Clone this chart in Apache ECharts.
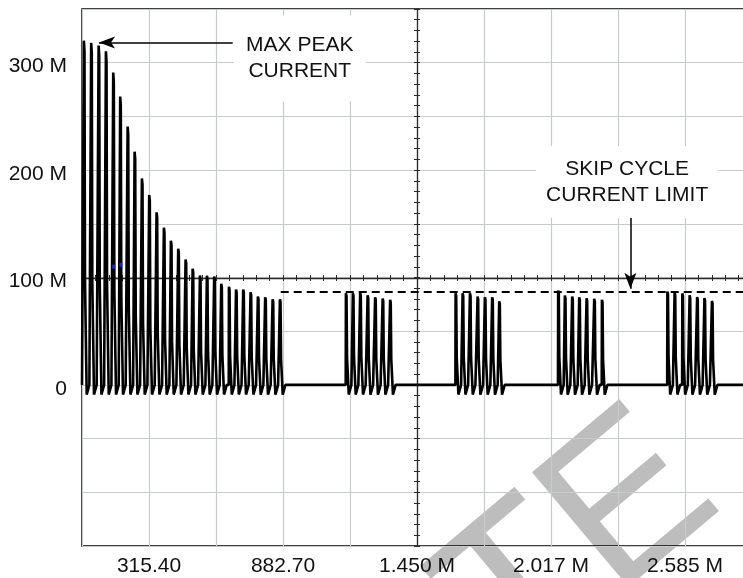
<!DOCTYPE html>
<html><head><meta charset="utf-8">
<script src="https://cdn.jsdelivr.net/npm/echarts@6/dist/echarts.min.js"></script>
<style>html,body{margin:0;padding:0;background:#fff}#c{width:743px;height:578px}</style>
</head><body><div id="c"></div>
<script>
// x axis in screen divisions (0..10), y in M units
const xTickLabels = ['', '315.40', '', '882.70', '', '1.450 M', '', '2.017 M', '', '2.585 M', ''];
const yLabelValues = [0, 100, 200, 300];
const yLabelTexts = ['0', '100 M', '200 M', '300 M'];

// pulse start positions (divisions) and peak values (M)
const burst1Times = [0.025,0.134,0.245,0.354,0.463,0.567,0.678,0.782,0.891,1.000,1.110,1.219,1.324,1.433,1.543,1.648,1.757,1.861,1.970,2.075,2.190,2.296,2.403,2.513,2.622,2.731,2.842,2.951];
const burst1Peaks = [320.5,318.4,315.9,310.6,290.9,268.5,240.5,217.1,192.2,176.8,160.7,146.4,134.3,126.8,116.8,108.1,101.9,101.6,100.9,94.1,91.4,88.8,88.8,86.3,82.2,81.6,79.7,79.7];
const burst2Times = [3.936,4.040,4.149,4.260,4.372,4.484,4.596];
const burst2Peaks = [85.3,85.3,85.6,83.5,81.6,80.5,79.2];
const burst3Times = [5.573,5.678,5.787,5.901,6.010,6.119,6.224];
const burst3Peaks = [85.3,85.3,85.3,82.2,81.6,81.6,77.9];
const burst4Times = [7.104,7.204,7.313,7.418,7.528,7.642,7.757];
const burst4Peaks = [87.9,83.2,82.2,81.6,80.7,80.1,79.2];
const burst5Times = [8.734,8.842,8.957,9.066,9.178,9.287,9.399];
const burst5Peaks = [87.0,86.3,85.2,83.5,81.9,80.8,78.2];
const skipLimit = 87;
const skipLimitStart = 2.966;
const blueDots = [[0.473,110.2],[0.582,111.8]];
const watermarkText = 'TE';

const bursts = [[burst1Times,burst1Peaks],[burst2Times,burst2Peaks],[burst3Times,burst3Peaks],[burst4Times,burst4Peaks],[burst5Times,burst5Peaks]];
const trace = [[0,0]];
bursts.forEach(([ts, ps]) => ts.forEach((t, i) => {
  const p = ps[i];
  trace.push([t,0],[t+0.003,p],[t+0.012,p*0.97],[t+0.02,p*0.3],[t+0.045,-9],[t+0.085,0]);
}));
trace.push([10,0]);

const FONT = "'Liberation Sans', Arial, Helvetica, sans-serif";
const GRIDC = '#c8ccc8';
const CROSS = '#2a2a2a';

const chart = echarts.init(document.getElementById('c'), null, {renderer:'canvas'});
const centerX = (offset, inside, line) => ({
  type:'value', min:0, max:10, interval:0.2, position:'bottom', offset,
  axisLine:{show:line, onZero:false, lineStyle:{color:CROSS, width:1.3}},
  axisTick:{show:true, inside, length:3, lineStyle:{color:CROSS, width:1}},
  axisLabel:{show:false}, splitLine:{show:false}
});
const centerY = (offset, inside, line) => ({
  type:'value', min:-150, max:350, interval:10, position:'left', offset,
  axisLine:{show:line, onZero:false, lineStyle:{color:CROSS, width:1.3}},
  axisTick:{show:true, inside, length:3, lineStyle:{color:CROSS, width:1}},
  axisLabel:{show:false}, splitLine:{show:false}
});

chart.setOption({
  animation:false,
  backgroundColor:'#fff',
  grid:{left:82, top:9, width:670, height:537, show:true, borderColor:'#000', borderWidth:1.5,
        outerBoundsMode:'none', containLabel:false},
  xAxis:[
    {type:'value', min:0, max:10, interval:1, position:'bottom',
     axisLine:{show:false, onZero:false}, axisTick:{show:false},
     splitLine:{show:true, lineStyle:{color:GRIDC, width:1.2}},
     axisLabel:{show:true, margin:10, color:'#111', fontFamily:FONT, fontSize:21,
       formatter:v => xTickLabels[Math.round(v)] || ''}},
    centerX(-268, false, true),
    centerX(-268, true, false)
  ],
  yAxis:[
    {type:'value', min:-150, max:350, interval:50, position:'left',
     axisLine:{show:false, onZero:false}, axisTick:{show:false},
     splitLine:{show:true, lineStyle:{color:GRIDC, width:1.2}},
     axisLabel:{show:true, margin:15, color:'#111', fontFamily:FONT, fontSize:21,
       rich:{a:{fontFamily:FONT, fontSize:21, color:'#111', padding:[8,0,0,0]}},
       formatter:v => { const i = yLabelValues.indexOf(v); return i >= 0 ? '{a|' + yLabelTexts[i] + '}' : ''; }}},
    centerY(-335, false, true),
    centerY(-335, true, false)
  ],
  graphic:[
    {type:'text', x:474, y:638, rotation:40*Math.PI/180, z:-10, zlevel:0, silent:true,
     style:{text:watermarkText, fontFamily:FONT, fontSize:218, fill:'#bdbdbd', align:'left', verticalAlign:'middle'}}
  ],
  series:[
    {type:'line', xAxisIndex:0, yAxisIndex:0, data:trace, showSymbol:false, symbol:'none',
     lineStyle:{color:'#000', width:2.6}, z:3, silent:true,
     markLine:{silent:true, animation:false, symbol:['none','arrow'], symbolSize:[9,16], label:{show:false},
       lineStyle:{color:'#000', width:1.5, type:'solid'},
       data:[
         [{coord:[2.249,318.9]},{coord:[0.254,318.9]}],
         [{coord:[8.185,160]},{coord:[8.185,89.5]}],
         [{coord:[skipLimitStart,skipLimit], symbol:'none', lineStyle:{type:[8,5], width:2, color:'#000'}},{coord:[10,skipLimit], symbol:'none'}]
       ]},
     markPoint:{silent:true, animation:false, symbol:'rect', symbolSize:0,
       label:{show:true, position:'inside', color:'#111', fontFamily:FONT, fontSize:21, lineHeight:26,
         backgroundColor:'#fff', align:'center'},
       data:[
         {coord:[3.25,304], label:{formatter:'MAX PEAK\nCURRENT', padding:[24,12,10,12]}},
         {coord:[8.137,189], label:{formatter:'SKIP CYCLE\nCURRENT LIMIT', padding:[10,10,10,10]}}
       ]}
    },
    {type:'scatter', data:blueDots, symbol:'rect', symbolSize:[3,4], itemStyle:{color:'#2030ff'}, z:4, silent:true}
  ]
});
</script></body></html>
